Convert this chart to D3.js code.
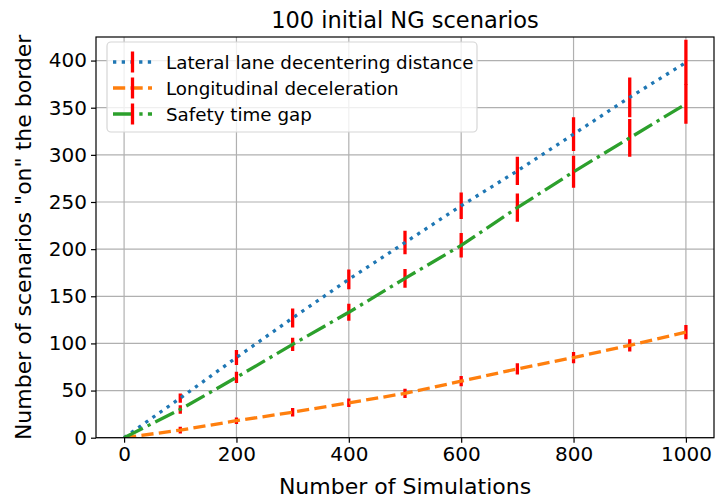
<!DOCTYPE html>
<html>
<head>
<meta charset="utf-8">
<script src="https://cdn.jsdelivr.net/npm/d3@7"></script>
<style>
  html, body { margin: 0; padding: 0; background: #fff; }
  svg { display: block; font-family: "DejaVu Sans", sans-serif; }
</style>
</head>
<body>
<svg id="chart" width="715" height="501"></svg>
<script>
// Simulation counts on the x axis
const simulations = [0, 100, 200, 300, 400, 500, 600, 700, 800, 900, 1000];

// Mean number of border scenarios per criterion, with spread (± error)
const lateralMean = [0, 42, 85, 127, 168, 207, 246, 283, 322, 361, 398];
const lateralErr  = [0, 5, 8, 10, 10.5, 12.5, 14, 15, 18, 21, 24];

const longitudinalMean = [0, 8, 18, 27, 37, 47, 60, 73, 85, 98, 112];
const longitudinalErr  = [0, 3.5, 3.5, 4.5, 4.5, 5, 5.5, 6, 6, 6.5, 7.5];

const safetyMean = [0, 30, 64, 99, 133, 169, 204, 244, 282, 318, 354];
const safetyErr  = [0, 4.5, 6, 7, 9, 10, 13, 15, 17, 20, 21];

const seriesNames = ["Lateral lane decentering distance", "Longitudinal deceleration", "Safety time gap"];
const xTicks = [0, 200, 400, 600, 800, 1000];
const yTicks = [0, 50, 100, 150, 200, 250, 300, 350, 400];

const titleText = "100 initial NG scenarios";
const xLabel = "Number of Simulations";
const yLabel = 'Number of scenarios "on" the border';

const series = [
  { name: seriesNames[0], mean: lateralMean, err: lateralErr, color: "#1f77b4", dash: "3.3,5.4" },
  { name: seriesNames[1], mean: longitudinalMean, err: longitudinalErr, color: "#ff7f0e", dash: "12.2,5.3" },
  { name: seriesNames[2], mean: safetyMean, err: safetyErr, color: "#2ca02c", dash: "21,5.3,3.3,5.3" }
];

const svg = d3.select("#chart");
const plotLeft = 96, plotRight = 714, plotTop = 37, plotBottom = 437.7;
const lw = 3.3;

const x = d3.scaleLinear().domain([-50, 1050]).range([plotLeft, plotRight]);
const y = d3.scaleLinear().domain([0, 425]).range([plotBottom, plotTop]);

// grid
const grid = svg.append("g");
grid.selectAll("line.gx").data(xTicks).enter().append("line")
  .attr("x1", d => x(d)).attr("x2", d => x(d))
  .attr("y1", plotTop).attr("y2", plotBottom)
  .attr("stroke", "#b0b0b0").attr("stroke-width", 1.2);
grid.selectAll("line.gy").data(yTicks).enter().append("line")
  .attr("x1", plotLeft).attr("x2", plotRight)
  .attr("y1", d => y(d)).attr("y2", d => y(d))
  .attr("stroke", "#b0b0b0").attr("stroke-width", 1.2);

svg.append("clipPath").attr("id", "plotclip")
  .append("rect").attr("x", plotLeft).attr("y", plotTop)
  .attr("width", plotRight - plotLeft).attr("height", plotBottom - plotTop);

const plot = svg.append("g").attr("clip-path", "url(#plotclip)");

// error bars beneath the lines
series.forEach(s => {
  plot.append("g").selectAll("line").data(simulations).enter().append("line")
    .attr("x1", d => x(d)).attr("x2", d => x(d))
    .attr("y1", (d, i) => y(s.mean[i] - s.err[i]))
    .attr("y2", (d, i) => y(s.mean[i] + s.err[i]))
    .attr("stroke", "red").attr("stroke-width", lw);
});

// series lines
const line = d3.line().x(d => x(d[0])).y(d => y(d[1]));
series.forEach(s => {
  plot.append("path")
    .datum(simulations.map((v, i) => [v, s.mean[i]]))
    .attr("d", line)
    .attr("fill", "none")
    .attr("stroke", s.color)
    .attr("stroke-width", lw)
    .attr("stroke-dasharray", s.dash);
});

// axes
const xAxis = d3.axisBottom(x).tickValues(xTicks).tickFormat(d3.format("d")).tickSize(5).tickPadding(4);
const yAxis = d3.axisLeft(y).tickValues(yTicks).tickFormat(d3.format("d")).tickSize(5).tickPadding(4);

const gx = svg.append("g").attr("transform", `translate(0,${plotBottom})`).call(xAxis);
const gy = svg.append("g").attr("transform", `translate(${plotLeft},0)`).call(yAxis);
[gx, gy].forEach(g => {
  g.select(".domain").remove();
  g.selectAll(".tick line").attr("stroke", "#000").attr("stroke-width", 1.2);
  g.selectAll(".tick text").attr("fill", "#000")
    .style("font-family", "DejaVu Sans").style("font-size", "20px");
});

// frame
svg.append("rect").attr("x", plotLeft).attr("y", plotTop)
  .attr("width", plotRight - plotLeft).attr("height", plotBottom - plotTop)
  .attr("fill", "none").attr("stroke", "#000").attr("stroke-width", 1.2);

// title and labels
svg.append("text").attr("x", (plotLeft + plotRight) / 2).attr("y", 28)
  .attr("text-anchor", "middle").style("font-size", "22.5px").text(titleText);
svg.append("text").attr("x", (plotLeft + plotRight) / 2).attr("y", 494)
  .attr("text-anchor", "middle").style("font-size", "22px").text(xLabel);
svg.append("text").attr("transform", `translate(31,${(plotTop + plotBottom) / 2}) rotate(-90)`)
  .attr("text-anchor", "middle").style("font-size", "22px").text(yLabel);

// legend
const lg = svg.append("g");
lg.append("rect").attr("x", 107).attr("y", 42).attr("width", 370).attr("height", 90)
  .attr("rx", 4).attr("fill", "#fff").attr("fill-opacity", 0.8)
  .attr("stroke", "#d6d6d6").attr("stroke-width", 1.2);
series.forEach((s, i) => {
  const cy = 62 + i * 26;
  lg.append("line").attr("x1", 113).attr("x2", 152).attr("y1", cy).attr("y2", cy)
    .attr("stroke", s.color).attr("stroke-width", lw).attr("stroke-dasharray", s.dash);
  lg.append("line").attr("x1", 132.5).attr("x2", 132.5).attr("y1", cy - 10.5).attr("y2", cy + 10.5)
    .attr("stroke", "red").attr("stroke-width", lw);
  lg.append("text").attr("x", 166).attr("y", cy + 6.5)
    .style("font-size", "18.3px").text(s.name);
});
</script>
</body>
</html>
